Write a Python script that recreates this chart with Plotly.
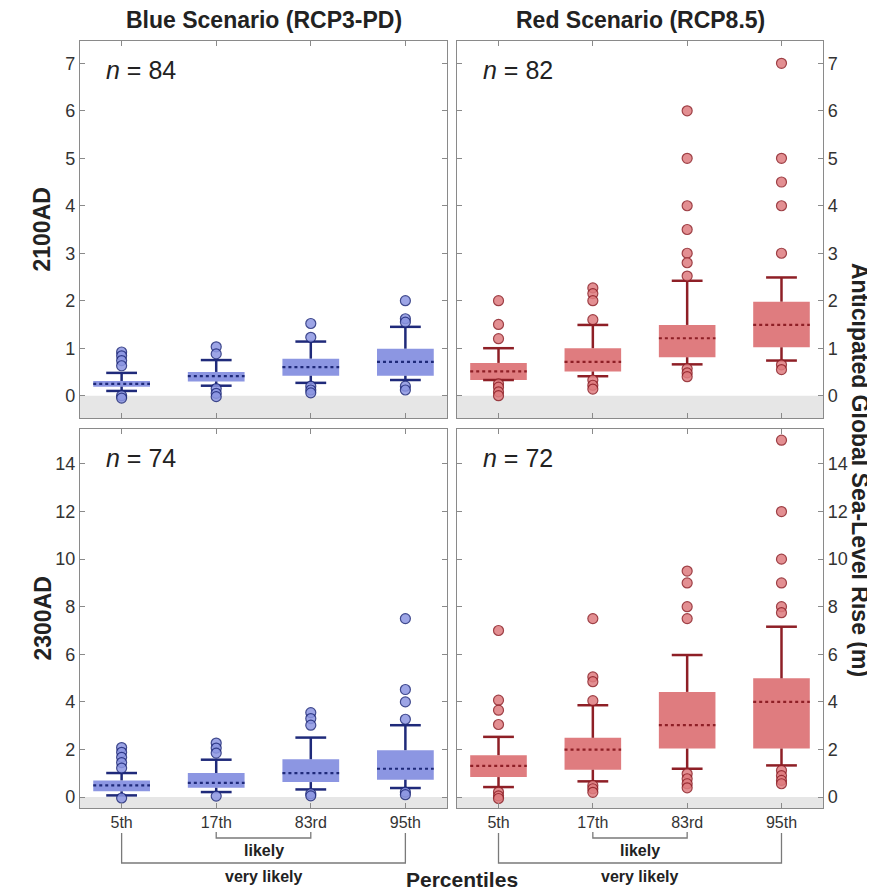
import plotly.graph_objects as go
from plotly.subplots import make_subplots

percentiles = ['5th', '17th', '83rd', '95th']

# Blue scenario (RCP3-PD), 2100AD
blue2100_q1 = [0.19, 0.30, 0.42, 0.42]
blue2100_med = [0.25, 0.41, 0.60, 0.71]
blue2100_q3 = [0.31, 0.50, 0.78, 0.99]
blue2100_lo = [0.10, 0.21, 0.27, 0.33]
blue2100_hi = [0.48, 0.75, 1.14, 1.45]
blue2100_out = [[0.92, 0.84, 0.74, 0.63, 0.0, -0.05],
                [1.03, 0.88, 0.15, 0.05, -0.02],
                [1.52, 1.23, 0.20, 0.12, 0.06],
                [2.0, 1.62, 1.55, 0.20, 0.12]]

# Red scenario (RCP8.5), 2100AD
red2100_q1 = [0.33, 0.51, 0.81, 1.02]
red2100_med = [0.51, 0.71, 1.21, 1.49]
red2100_q3 = [0.69, 1.00, 1.49, 1.98]
red2100_lo = [0.33, 0.41, 0.66, 0.74]
red2100_hi = [1.00, 1.49, 2.42, 2.49]
red2100_out = [[2.0, 1.5, 1.2, 0.25, 0.18, 0.08, 0.0],
               [2.27, 2.15, 2.0, 1.6, 0.33, 0.22, 0.14],
               [6.0, 5.0, 4.0, 3.5, 3.0, 2.8, 2.52, 0.57, 0.48, 0.40],
               [7.0, 5.0, 4.5, 4.0, 3.0, 0.65, 0.55]]

# Blue scenario (RCP3-PD), 2300AD
blue2300_q1 = [0.24, 0.39, 0.63, 0.73]
blue2300_med = [0.49, 0.60, 1.01, 1.19]
blue2300_q3 = [0.70, 1.01, 1.59, 1.97]
blue2300_lo = [0.07, 0.21, 0.32, 0.38]
blue2300_hi = [1.01, 1.57, 2.50, 3.02]
blue2300_out = [[2.08, 1.88, 1.67, 1.45, 1.22, -0.04],
                [2.27, 2.06, 1.85, 0.04],
                [3.55, 3.30, 3.02, 0.14, 0.05],
                [7.5, 4.52, 4.0, 3.27, 0.21, 0.10]]

# Red scenario (RCP8.5), 2300AD
red2300_q1 = [0.84, 1.15, 2.04, 2.04]
red2300_med = [1.31, 1.99, 3.02, 4.00]
red2300_q3 = [1.76, 2.49, 4.42, 4.99]
red2300_lo = [0.42, 0.66, 1.19, 1.33]
red2300_hi = [2.53, 3.86, 5.97, 7.16]
red2300_out = [[7.0, 4.07, 3.65, 3.05, 0.21, 0.05, -0.06],
               [7.5, 5.05, 4.85, 4.05, 0.49, 0.35, 0.20],
               [9.5, 9.0, 8.0, 7.5, 0.98, 0.77, 0.56, 0.39],
               [15.0, 12.0, 10.0, 9.0, 8.0, 7.75, 1.12, 0.90, 0.70, 0.56]]

n_labels = [84, 82, 74, 72]

BLUE_FILL = '#8c96e2'
BLUE_DARK = '#1f2a7a'
RED_FILL = '#df7c7f'
RED_DARK = '#8e1f26'
SANS = 'Liberation Sans, Arial'
BW = 0.6

# page has an 8px body margin, so the figure is a bit smaller than the window
W, H = 867, 885


def px(x):
    return (x - 8) / W


def py(y):
    return 1 - (y - 8) / H


fig = make_subplots(rows=2, cols=2)


def add_panel(row, col, q1, med, q3, lo, hi, out, fill, dark):
    xs = list(range(len(percentiles)))
    fig.add_bar(x=xs, y=[b - a for a, b in zip(q1, q3)], base=q1, width=BW,
                marker=dict(color=fill, line=dict(width=0)), row=row, col=col)
    wx, wy = [], []
    for i in xs:
        wx += [i, i, None, i, i, None]
        wy += [q3[i], hi[i], None, lo[i], q1[i], None]
    fig.add_scatter(x=wx, y=wy, mode='lines', line=dict(color=dark, width=2.5),
                    row=row, col=col)
    fig.add_scatter(x=xs + xs, y=hi + lo, mode='markers',
                    marker=dict(symbol='line-ew', size=22, line=dict(color=dark, width=2.5)),
                    row=row, col=col)
    mx, my = [], []
    for i in xs:
        mx += [i - BW / 2, i + BW / 2, None]
        my += [med[i], med[i], None]
    fig.add_scatter(x=mx, y=my, mode='lines', line=dict(color=dark, width=2.2, dash='3px,3px'),
                    row=row, col=col)
    ox, oy = [], []
    for i in xs:
        ox += [i] * len(out[i])
        oy += out[i]
    fig.add_scatter(x=ox, y=oy, mode='markers',
                    marker=dict(symbol='circle', size=10, color=fill, opacity=0.85,
                                line=dict(color=dark, width=1.2)),
                    row=row, col=col)


add_panel(1, 1, blue2100_q1, blue2100_med, blue2100_q3, blue2100_lo, blue2100_hi, blue2100_out, BLUE_FILL, BLUE_DARK)
add_panel(1, 2, red2100_q1, red2100_med, red2100_q3, red2100_lo, red2100_hi, red2100_out, RED_FILL, RED_DARK)
add_panel(2, 1, blue2300_q1, blue2300_med, blue2300_q3, blue2300_lo, blue2300_hi, blue2300_out, BLUE_FILL, BLUE_DARK)
add_panel(2, 2, red2300_q1, red2300_med, red2300_q3, red2300_lo, red2300_hi, red2300_out, RED_FILL, RED_DARK)

xdom = [[px(80), px(447)], [px(457), px(823)]]
ydom = [[py(418), py(41)], [py(808), py(429)]]

axis_style = dict(showline=True, linecolor='#8a8a8a', linewidth=1.2, mirror='ticks',
                  ticks='inside', ticklen=5, tickcolor='#8a8a8a', showgrid=False,
                  zeroline=False, tickfont=dict(family=SANS, size=18, color='#333'))

for k, (r, c) in enumerate([(1, 1), (1, 2), (2, 1), (2, 2)]):
    n = k + 1
    xa = 'xaxis' if n == 1 else 'xaxis%d' % n
    ya = 'yaxis' if n == 1 else 'yaxis%d' % n
    fig.layout[xa].update(domain=xdom[c - 1], range=[-0.44, 3.44], tickvals=[0, 1, 2, 3],
                          ticktext=percentiles, showticklabels=(r == 2), **axis_style)
    fig.layout[xa].tickfont.size = 16
    if r == 1:
        fig.layout[ya].update(domain=ydom[0], range=[-0.47, 7.47], dtick=1, tick0=0, **axis_style)
    else:
        fig.layout[ya].update(domain=ydom[1], range=[-0.46, 15.47], dtick=2, tick0=0, **axis_style)
    fig.layout[ya].side = 'left' if c == 1 else 'right'
    xr = 'x' if n == 1 else 'x%d' % n
    yr = 'y' if n == 1 else 'y%d' % n
    # grey band below zero
    fig.add_shape(type='rect', xref=xr + ' domain', yref=yr, x0=0, x1=1, y0=-1, y1=0,
                  fillcolor='#e6e6e6', line=dict(width=0), layer='below')
    fig.add_annotation(xref=xr + ' domain', yref=yr + ' domain', x=0.065, y=0.923,
                       xanchor='left', yanchor='middle', showarrow=False,
                       text='<i>n</i> = %d' % n_labels[k],
                       font=dict(family=SANS, size=25, color='#222'))

mid = dict(xanchor='center', yanchor='middle', showarrow=False)
title_font = dict(family=SANS, size=23, color='#222')
fig.add_annotation(xref='x domain', yref='paper', x=0.5, y=py(20),
                   text='<b>Blue Scenario (RCP3-PD)</b>', font=title_font, **mid)
fig.add_annotation(xref='x2 domain', yref='paper', x=0.5, y=py(20),
                   text='<b>Red Scenario (RCP8.5)</b>', font=title_font, **mid)
fig.add_annotation(xref='paper', yref='y domain', x=px(42), y=0.5,
                   textangle=-90, text='<b>2100AD</b>', font=title_font, **mid)
fig.add_annotation(xref='paper', yref='y3 domain', x=px(42), y=0.5,
                   textangle=-90, text='<b>2300AD</b>', font=title_font, **mid)
fig.add_annotation(xref='paper', yref='paper', x=px(860), y=py(470),
                   textangle=90, text='<b>Anticipated Global Sea-Level Rise (m)</b>',
                   font=dict(family=SANS, size=23, color='#222'), **mid)
fig.add_annotation(xref='paper', yref='paper', x=px(462), y=py(879),
                   text='<b>Percentiles</b>', font=dict(family=SANS, size=21, color='#222'), **mid)

# likely / very likely brackets under each column
for xr in ['x3', 'x4']:
    bc = dict(color='#7a7a7a', width=1.3)
    fig.add_shape(type='path', xref=xr, yref='paper',
                  path='M 1 %f L 1 %f L 2 %f L 2 %f' % (py(832), py(838), py(838), py(832)),
                  line=bc)
    fig.add_shape(type='path', xref=xr, yref='paper',
                  path='M 0 %f L 0 %f L 3 %f L 3 %f' % (py(833), py(863), py(863), py(833)),
                  line=bc)
    fig.add_annotation(xref=xr, yref='paper', x=1.5, y=py(850),
                       text='<b>likely</b>', font=dict(family=SANS, size=16, color='#222'), **mid)
    fig.add_annotation(xref=xr, yref='paper', x=1.5, y=py(876),
                       text='<b>very likely</b>', font=dict(family=SANS, size=16, color='#222'), **mid)

fig.update_layout(width=W, height=H, autosize=False, showlegend=False,
                  margin=dict(l=0, r=0, t=0, b=0), plot_bgcolor='white',
                  paper_bgcolor='white', barmode='overlay')

fig.write_html('out.html')
